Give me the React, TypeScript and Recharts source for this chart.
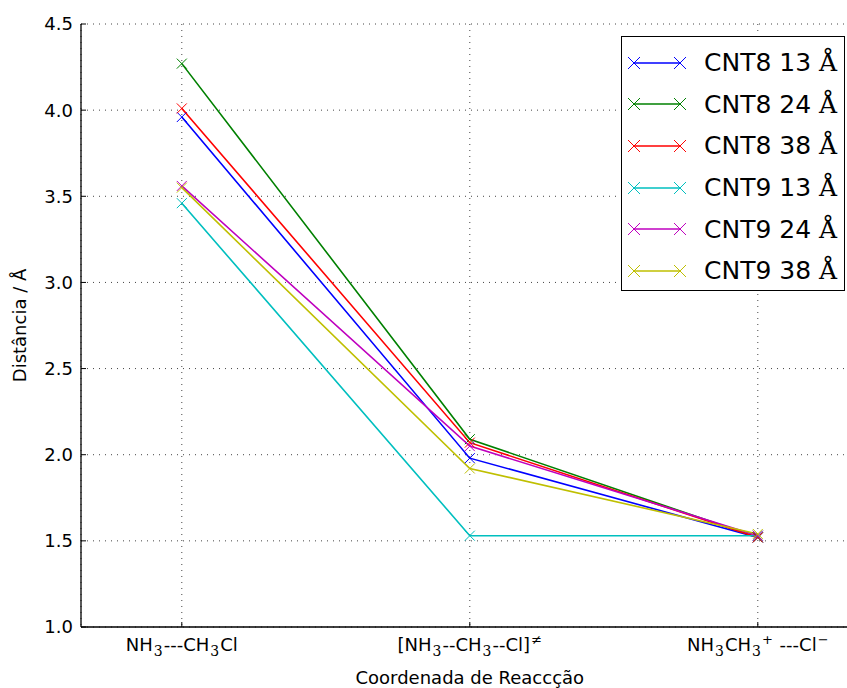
import { LineChart, Line, XAxis, YAxis, CartesianGrid, Legend } from 'recharts'

const positions = [0, 1, 2]
const cnt8_13 = [3.96, 1.98, 1.52]
const cnt8_24 = [4.27, 2.09, 1.52]
const cnt8_38 = [4.01, 2.07, 1.52]
const cnt9_13 = [3.46, 1.53, 1.53]
const cnt9_24 = [3.56, 2.05, 1.53]
const cnt9_38 = [3.55, 1.92, 1.54]
const yTicks = [1.0, 1.5, 2.0, 2.5, 3.0, 3.5, 4.0, 4.5]

// tick label pieces: [text, kind] where kind is '' | 'sub' | 'sup'
const xTickLabels: [string, string][][] = [
  [['NH', ''], ['3', 'sub'], ['---CH', ''], ['3', 'sub'], ['Cl', '']],
  [['[NH', ''], ['3', 'sub'], ['--CH', ''], ['3', 'sub'], ['--Cl]', ''], ['≠', 'sup']],
  [['NH', ''], ['3', 'sub'], ['CH', ''], ['3', 'sub'], ['+', 'sup'], [' ---Cl', ''], ['−', 'sup']],
]

const series = [
  { key: 'c813', name: 'CNT8 13 Å', color: '#0000ff', values: cnt8_13 },
  { key: 'c824', name: 'CNT8 24 Å', color: '#008000', values: cnt8_24 },
  { key: 'c838', name: 'CNT8 38 Å', color: '#ff0000', values: cnt8_38 },
  { key: 'c913', name: 'CNT9 13 Å', color: '#00bfbf', values: cnt9_13 },
  { key: 'c924', name: 'CNT9 24 Å', color: '#bf00bf', values: cnt9_24 },
  { key: 'c938', name: 'CNT9 38 Å', color: '#bfbf00', values: cnt9_38 },
]

const data = positions.map((x, i) => {
  const row: Record<string, number> = { x }
  series.forEach(s => { row[s.key] = s.values[i] })
  return row
})

const FONT = '"DejaVu Sans", sans-serif'
const SERIF = '"DejaVu Serif", serif'

function renderLabel(parts: [string, string][]) {
  let shift = 0
  return parts.map(([t, kind], i) => {
    const target = kind === 'sub' ? 5 : kind === 'sup' ? -7 : 0
    const dy = target - shift
    shift = target
    if (kind === 'sub')
      return <tspan key={i} dy={dy} dx={1} fontSize={14} fontFamily={SERIF}>{t}</tspan>
    if (kind === 'sup')
      return <tspan key={i} dy={dy} dx={1} fontSize={13}>{t}</tspan>
    return <tspan key={i} dy={dy} dx={i > 0 ? 1 : 0}>{t}</tspan>
  })
}

function BottomTick(props: any) {
  const { x, y, payload } = props
  return (
    <g>
      <line x1={x} x2={x} y1={y} y2={y - 5} stroke="#000" strokeWidth={1} />
      <text x={x} y={y + 24} textAnchor="middle" fontSize={18} fontFamily={FONT} fill="#000">
        {renderLabel(xTickLabels[payload.value])}
      </text>
    </g>
  )
}

function TopTick(props: any) {
  const { x, y } = props
  return <line x1={x} x2={x} y1={y} y2={y + 5} stroke="#000" strokeWidth={1} />
}

function LeftTick(props: any) {
  const { x, y, payload } = props
  return (
    <g>
      <line x1={x} x2={x + 5} y1={y} y2={y} stroke="#000" strokeWidth={1} />
      <text x={x - 8} y={y} dy="0.36em" textAnchor="end" fontSize={18} fontFamily={FONT} fill="#000">
        {payload.value.toFixed(1)}
      </text>
    </g>
  )
}

function XMark(props: any) {
  const { cx, cy, stroke, index } = props
  if (cx == null || cy == null) return <g key={index} />
  const r = 5
  return (
    <path
      key={index}
      d={`M${cx - r},${cy - r}L${cx + r},${cy + r}M${cx - r},${cy + r}L${cx + r},${cy - r}`}
      stroke={stroke}
      strokeWidth={1}
      fill="none"
    />
  )
}

function LegendBox(props: any) {
  const items = props.payload || []
  return (
    <div
      style={{
        width: 222,
        height: 248,
        border: '1px solid #000',
        background: '#fff',
        paddingTop: 5,
        boxSizing: 'content-box',
      }}
    >
      {items.map((it: any) => (
        <div key={it.value} style={{ height: 41.6, display: 'flex', alignItems: 'center' }}>
          <svg width={70} height={20} style={{ flex: 'none' }}>
            <line x1={12} x2={58} y1={10} y2={10} stroke={it.color} strokeWidth={1.6} />
            <path d="M6,4L18,16M6,16L18,4M52,4L64,16M52,16L64,4" stroke={it.color} strokeWidth={1} fill="none" />
          </svg>
          <span style={{ marginLeft: 12, fontSize: 25, fontFamily: FONT, color: '#000', whiteSpace: 'nowrap' }}>
            {String(it.value).replace(' Å', ' ')}
            <span style={{ fontFamily: SERIF }}>Å</span>
          </span>
        </div>
      ))}
    </div>
  )
}

export default function App() {
  return (
    <div style={{ position: 'fixed', left: 0, top: 0, width: 847, height: 688, overflow: 'hidden', background: '#fff' }}>
      <LineChart width={870} height={688} data={data} margin={{ top: 24, right: 11.4, left: 0, bottom: 0 }}>
        <CartesianGrid stroke="#444" strokeDasharray="1 5" strokeWidth={1} />
        <XAxis
          dataKey="x"
          type="number"
          domain={[-0.35, 2.35]}
          ticks={positions}
          height={61}
          tickSize={0}
          tickMargin={0}
          tickLine={false}
          tick={<BottomTick />}
          axisLine={{ stroke: '#000', strokeWidth: 1.3 }}
          label={{ value: 'Coordenada de Reaccção', position: 'insideBottom', offset: 4, fontSize: 18, fontFamily: FONT, fill: '#000' }}
        />
        <XAxis
          xAxisId="top"
          orientation="top"
          dataKey="x"
          type="number"
          domain={[-0.35, 2.35]}
          ticks={positions}
          height={0}
          tickSize={0}
          tickMargin={0}
          tickLine={false}
          tick={<TopTick />}
          axisLine={{ stroke: '#000', strokeWidth: 1.3 }}
        />
        <YAxis
          type="number"
          domain={[1, 4.5]}
          ticks={yTicks}
          width={81}
          tickSize={0}
          tickMargin={0}
          tickLine={false}
          tick={<LeftTick />}
          axisLine={{ stroke: '#000', strokeWidth: 1.3 }}
          label={{
            content: (p: any) => {
              const vb = p.viewBox
              const cy = vb.y + vb.height / 2
              return (
                <text x={20} y={cy} transform={`rotate(-90 20 ${cy})`} textAnchor="middle" dy="0.36em" fontSize={18} fontFamily={FONT} fill="#000">
                  Distância / Å
                </text>
              )
            },
          }}
        />
        {series.map(s => (
          <Line
            key={s.key}
            dataKey={s.key}
            name={s.name}
            type="linear"
            stroke={s.color}
            strokeWidth={1.6}
            dot={<XMark />}
            activeDot={false}
            isAnimationActive={false}
          />
        ))}
        <Legend
          layout="vertical"
          align="center"
          verticalAlign="middle"
          content={<LegendBox />}
          wrapperStyle={{ position: 'absolute', top: 36, left: 621, width: 224 }}
        />
      </LineChart>
    </div>
  )
}
